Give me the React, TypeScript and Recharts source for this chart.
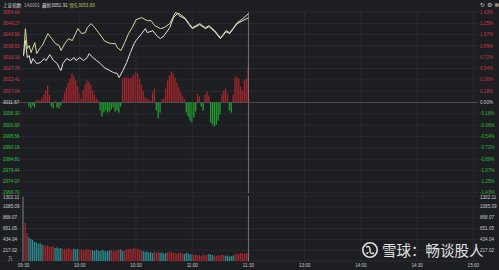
import React from "react";
import { ComposedChart, Line, Bar, Cell, XAxis, YAxis, CartesianGrid, ReferenceLine } from "recharts";

// x axis: minutes since 09:30 (0..240), ticks every half hour
const timeTicks = [0, 30, 60, 90, 120, 150, 180, 210, 240];
const timeLabels = ["09:30", "10:00", "10:30", "11:00", "11:30", "13:00", "14:00", "14:30", "15:00"];

const prevClose = 3011.67;
const priceTicks = [
  3054.64, 3049.27, 3043.9, 3038.53, 3033.16, 3027.78, 3022.41, 3017.04, 3011.67,
  3006.3, 3000.93, 2995.56, 2990.19, 2984.81, 2979.44, 2974.07, 2968.7,
];
const pctLabels = [
  "1.43%", "1.25%", "1.07%", "0.89%", "0.72%", "0.54%", "0.36%", "0.18%", "0.00%",
  "-0.18%", "-0.36%", "-0.54%", "-0.72%", "-0.89%", "-1.07%", "-1.25%", "-1.43%",
];
const volTicks = [0, 217.02, 434.04, 651.05, 868.07, 1085.09, 1302.11];

// 领先 (yellow) line
const leadTimes = [0, 1, 2, 3, 4, 6, 7, 9, 10, 13, 15, 17, 19, 20, 22, 24, 26, 28, 29, 31, 33, 34, 36, 38, 40, 42, 43, 45, 47, 49, 50, 52, 54, 56, 58, 60, 63, 66, 68, 70, 73, 75, 78, 81, 83, 86, 88, 90, 92, 94, 97, 99, 102, 105, 106, 108, 110, 112, 114, 117, 120];
const leadValues = [3033.95, 3046.75, 3037.27, 3038.69, 3035.37, 3040.11, 3034.9, 3037.74, 3038.69, 3044.38, 3042.01, 3039.64, 3038.69, 3036.32, 3039.64, 3042.01, 3041.06, 3044.85, 3046.75, 3044.38, 3044.85, 3047.22, 3049.12, 3047.22, 3044.85, 3042.48, 3041.06, 3040.11, 3039.64, 3039.64, 3037.74, 3036.32, 3040.11, 3044.38, 3047.22, 3051.01, 3051.96, 3050.54, 3050.54, 3048.17, 3046.75, 3047.22, 3049.12, 3054.33, 3053.86, 3051.96, 3049.59, 3047.22, 3048.17, 3049.12, 3047.22, 3048.17, 3045.8, 3042.48, 3043.43, 3045.8, 3044.85, 3047.22, 3049.59, 3051.49, 3053.83];

// 最新 (white) price line
const priceTimes = [0, 1, 2, 3, 4, 5, 7, 9, 11, 12, 14, 16, 18, 19, 20, 21, 23, 25, 27, 28, 30, 32, 34, 35, 37, 39, 41, 43, 44, 46, 48, 50, 51, 53, 55, 57, 59, 60, 63, 65, 66, 69, 71, 73, 75, 78, 80, 82, 83, 86, 88, 90, 92, 94, 97, 99, 102, 105, 106, 108, 110, 112, 114, 117, 120];
const priceValues = [3033.95, 3041.06, 3033.0, 3033.95, 3030.16, 3032.53, 3030.16, 3030.63, 3032.53, 3031.58, 3034.42, 3031.58, 3030.16, 3028.26, 3026.84, 3030.16, 3032.53, 3031.58, 3033.0, 3031.58, 3033.0, 3031.58, 3033.0, 3034.9, 3033.0, 3031.58, 3030.16, 3028.26, 3027.79, 3026.84, 3025.89, 3025.42, 3023.52, 3026.84, 3030.63, 3035.37, 3039.64, 3041.06, 3044.38, 3046.75, 3044.85, 3045.8, 3043.43, 3042.01, 3043.43, 3047.22, 3051.96, 3053.86, 3052.91, 3051.49, 3049.12, 3046.75, 3047.69, 3048.64, 3046.75, 3047.69, 3045.32, 3042.01, 3042.95, 3045.32, 3044.38, 3046.75, 3049.12, 3050.54, 3051.91];

// red/green strength bars, one per minute 09:30..11:30
const strength = [
  0, 0, 0, -4, -6, -3, -5, 2, 3, 2,
  5, 8, 12, 17, 8, -4, -6, 2, -5, -6,
  -3, 3, 10, 15, 20, 24, 29, 26, 22, 16,
  9, 4, 12, 18, 22, 21, 18, 12, 8, 4,
  2, -8, -14, -10, -8, -10, -9, -7, -5, -9,
  -8, -10, -4, 24, 25, 25, 25, 24, 26, 28,
  31, 29, 24, 18, 12, 5, 4, 3, 2, 10,
  14, -8, -16, -10, 3, 4, 14, 22, 27, 31,
  29, 25, 20, 15, 10, 6, 3, -10, -14, -18,
  -20, -15, -9, 9, 6, -4, -8, 8, 11, 7,
  -20, -22, -24, -22, -18, -12, 8, 12, 14, 8,
  -8, -10, 8, 25, 26, 24, 16, 12, 22, 24,
  37,
];

// volume per minute (万)
const volume = [
  1280, 760, 560, 470, 440, 420, 380, 370, 340, 360,
  330, 320, 300, 310, 290, 280, 300, 260, 270, 250,
  260, 240, 250, 230, 260, 240, 220, 250, 230, 240,
  220, 230, 210, 220, 240, 230, 210, 220, 200, 230,
  210, 200, 220, 210, 190, 200, 210, 220, 200, 190,
  210, 220, 230, 200, 210, 230, 240, 250, 240, 260,
  250, 240, 230, 210, 200, 180, 190, 170, 180, 160,
  190, 170, 180, 160, 170, 150, 160, 170, 190, 180,
  170, 160, 150, 170, 160, 150, 140, 160, 150, 130,
  140, 120, 130, 110, 120, 100, 130, 110, 120, 140,
  130, 120, 110, 100, 120, 110, 130, 120, 100, 110,
  90, 100, 110, 130, 150, 140, 160, 150, 140, 160,
  150,
];
// u = up minute, d = down minute, n = opening
const volDir = (
  "n" + "uu" + "dddddddd" + "uuuuuu" + "dddd" + "uuuuuu" + "ddd" + "uuuuuuu" +
  "dddddddddd" + "uuuuu" + "dd" + "uuuuuuuuuu" + "dddddd" + "uuu" + "dddd" +
  "uuuuuuuuu" + "ddddd" + "uuuuuuuu" + "ddd" + "uuuuuu" + "ddddd" + "uuuuuuuu"
).split("");

type Row = { t: number; price?: number; lead?: number; str?: number; vol?: number; dir?: string };
const rows: Row[] = Array.from({ length: 241 }, (_, t) => ({ t }));
leadTimes.forEach((m, i) => { rows[m].lead = leadValues[i]; });
priceTimes.forEach((m, i) => { rows[m].price = priceValues[i]; });
strength.forEach((v, i) => { rows[i].str = v; });
volume.forEach((v, i) => { rows[i].vol = v; rows[i].dir = volDir[i]; });

const BG = "#1c1e22";
const GRID = "#2e3137";
const RED = "#d3363c";
const GREEN = "#2fbf3a";
const FONT = "'Liberation Sans', Arial, sans-serif";
const CJK = "'Noto Sans CJK SC', sans-serif";
const FS = 4.6;
const xPad = { left: 21.6, right: 3.7 };

const tickColor = (v: number) => (v > prevClose + 0.01 ? RED : v < prevClose - 0.01 ? GREEN : "#d0d0d0");
// outermost labels are nudged inside the panel, as in the reference
const priceDy = (v: number) => (v === 2968.7 ? 0.6 : 1.6);

const LeftPriceTick = (props: any) => {
  const { y, payload } = props;
  return (
    <text x={3} y={y} dy={priceDy(payload.value)} fontSize={FS} fontFamily={FONT} fill={tickColor(payload.value)}>
      {payload.value.toFixed(2)}
    </text>
  );
};

const RightPctTick = (props: any) => {
  const { y, payload } = props;
  const i = priceTicks.indexOf(payload.value);
  return (
    <text x={480} y={y} dy={priceDy(payload.value)} fontSize={FS} fontFamily={FONT} fill={tickColor(payload.value)}>
      {pctLabels[i]}
    </text>
  );
};

const volLabel = (v: number) => (v === 0 ? "万" : v.toFixed(2));
const volDy = (v: number) => (v === 0 ? -1 : v === 1302.11 ? 3 : 1.6);

const LeftVolTick = (props: any) => {
  const { y, payload } = props;
  return (
    <text x={payload.value === 0 ? 8 : 3} y={y} dy={volDy(payload.value)} fontSize={FS}
      fontFamily={payload.value === 0 ? CJK : FONT} fill="#c8c8c8">
      {volLabel(payload.value)}
    </text>
  );
};

const RightVolTick = (props: any) => {
  const { y, payload } = props;
  if (payload.value === 0) return null;
  return (
    <text x={480} y={y} dy={volDy(payload.value)} fontSize={FS} fontFamily={FONT} fill="#c8c8c8">
      {volLabel(payload.value)}
    </text>
  );
};

const TimeTick = (props: any) => {
  const { x, y, payload } = props;
  const i = timeTicks.indexOf(payload.value);
  return (
    <text x={x} y={y} dy={4} textAnchor="middle" fontSize={FS} fontFamily={FONT} fill="#c8c8c8">
      {timeLabels[i]}
    </text>
  );
};

const volColor = (d?: string) => (d === "u" ? "#a3282d" : d === "d" ? "#2b8c8f" : "#9a9a9a");

export default function App() {
  return (
    <div style={{ position: "absolute", left: 0, top: 0, width: 499, height: 270, background: BG, overflow: "hidden" }}>
      <div style={{ position: "absolute", left: 0, top: 194 }}>
        <ComposedChart width={499} height={76} data={rows} margin={{ top: 2, right: 0, bottom: 0, left: 0 }}>
          <CartesianGrid yAxisId="vl" vertical={false} stroke={GRID} strokeWidth={0.7} />
          <XAxis dataKey="t" ticks={timeTicks} interval={0} height={9} padding={xPad}
            axisLine={false} tickLine={false} tickSize={0} tick={<TimeTick />} />
          <YAxis yAxisId="vl" domain={[0, 1302.11]} ticks={volTicks} interval={0} width={1}
            axisLine={false} tickLine={false} tickSize={0} tick={<LeftVolTick />} allowDataOverflow />
          <YAxis yAxisId="vr" orientation="right" domain={[0, 1302.11]} ticks={volTicks} interval={0} width={21}
            axisLine={false} tickLine={false} tickSize={0} tick={<RightVolTick />} allowDataOverflow />
          {timeTicks.map((t) => (
            <ReferenceLine key={`vg-${t}`} yAxisId="vl" x={t} stroke={t === 120 ? "#8a8a8a" : GRID}
              strokeWidth={t === 120 ? 0.8 : 0.7} />
          ))}
          <Bar yAxisId="vl" dataKey="vol" barSize={1.3} isAnimationActive={false}>
            {rows.map((r, i) => (
              <Cell key={`v-${i}`} fill={volColor(r.dir)} />
            ))}
          </Bar>
        </ComposedChart>
      </div>
      <div style={{ position: "absolute", left: 0, top: 0 }}>
        <ComposedChart width={499} height={198} data={rows} margin={{ top: 12, right: 0, bottom: 5, left: 0 }}>
          <CartesianGrid yAxisId="left" vertical={false} stroke={GRID} strokeWidth={0.7} />
          <XAxis dataKey="t" ticks={timeTicks} interval={0} hide padding={xPad} />
          <YAxis yAxisId="left" domain={[2968.7, 3054.64]} ticks={priceTicks} interval={0} width={1}
            axisLine={false} tickLine={false} tickSize={0} tick={<LeftPriceTick />} allowDataOverflow />
          <YAxis yAxisId="right" orientation="right" domain={[2968.7, 3054.64]} ticks={priceTicks} interval={0}
            width={21} axisLine={false} tickLine={false} tickSize={0} tick={<RightPctTick />} allowDataOverflow />
          <YAxis yAxisId="str" hide domain={[-90.5, 90.5]} allowDataOverflow />
          {timeTicks.slice(1).map((t) => (
            <ReferenceLine key={`g-${t}`} yAxisId="left" x={t} stroke={t === 120 ? "#8a8a8a" : GRID}
              strokeWidth={t === 120 ? 0.8 : 0.7} />
          ))}
          <ReferenceLine yAxisId="left" y={prevClose} stroke="#54575d" strokeWidth={0.8} />
          <Bar yAxisId="str" dataKey="str" barSize={1.3} isAnimationActive={false}>
            {rows.map((r, i) => (
              <Cell key={`s-${i}`} fill={(r.str ?? 0) >= 0 ? "#a3262b" : "#22a02e"} />
            ))}
          </Bar>
          <Line yAxisId="left" dataKey="price" type="linear" stroke="#e4e4e4" strokeWidth={1} dot={false}
            connectNulls isAnimationActive={false} />
          <Line yAxisId="left" dataKey="lead" type="linear" stroke="#dcd89e" strokeWidth={1} dot={false}
            connectNulls isAnimationActive={false} />
        </ComposedChart>
      </div>
      <svg width={499} height={270} style={{ position: "absolute", left: 0, top: 0, pointerEvents: "none" }}>
        <g fontFamily={FONT} fontSize={FS}>
          <text x={3} y={6.5} fill="#d8d8d8" fontFamily={CJK}>上证指数</text>
          <text x={24} y={6.5} fill="#a8a8a8">1A0001</text>
          <text x={42} y={6.5} fill="#d8d8d8"><tspan fontFamily={CJK}>最新</tspan>3051.91</text>
          <text x={69} y={6.5} fill="#b9c65c"><tspan fontFamily={CJK}>领先</tspan>3053.83</text>
          <text x={480} y={6.5} fill="#c8c8c8" fontSize={6} fontFamily="'DejaVu Sans', sans-serif">↻ ⚙ ⊗</text>
        </g>
        <g opacity={0.95}>
          <circle cx={370} cy={250} r={7.2} fill="none" stroke="#ececec" strokeWidth={1.6} />
          <path d="M 366 247 q 4 -2 4 3 q 0 5 4 3" fill="none" stroke="#ececec" strokeWidth={1.5} />
          <path d="M 366 253 q 2 1 2 -1" fill="none" stroke="#ececec" strokeWidth={1.3} />
          <text x={382} y={256} fontSize={14.5} fill="#ececec" fontFamily={CJK}>雪球：畅谈股人</text>
        </g>
      </svg>
    </div>
  );
}
